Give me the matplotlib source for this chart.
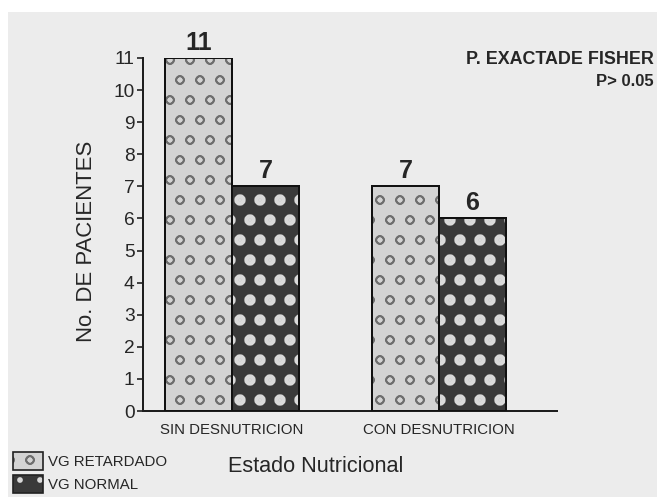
import matplotlib
matplotlib.use("Agg")
import matplotlib.pyplot as plt
from matplotlib.patches import Patch, Rectangle
import numpy as np

# ---- data ----
categories = ["SIN DESNUTRICION", "CON DESNUTRICION"]
series_names = ["VG RETARDADO", "VG NORMAL"]
vg_retardado = [11, 7]
vg_normal = [7, 6]
y_ticks = list(range(0, 12))
xlabel = "Estado Nutricional"
ylabel = "No. DE PACIENTES"
note_lines = ["P. EXACTADE FISHER", "P> 0.05"]

# ---- style ----
plt.rcParams["font.family"] = ["Liberation Sans", "DejaVu Sans"]
TXT = "#262626"
BG = "#ececec"
DPI = 120
W, H = 657, 497

fig = plt.figure(figsize=(W / DPI, H / DPI), dpi=DPI, facecolor="white")
fig.add_artist(Rectangle((8 / W, 0), 1, 1 - 12 / H, transform=fig.transFigure,
                         facecolor=BG, edgecolor="none", zorder=-5))

ax = fig.add_axes([143 / W, 1 - 411 / H, (557 - 143) / W, (411 - 58) / H])
ax.set_facecolor("none")

x = np.arange(len(categories))
w = 0.324

styles = [
    dict(face="#d3d3d3", hatchcol="#6e6e6e", hatch="o", hlw=1.0),
    dict(face="#3a3a3a", hatchcol="#dadada", hatch=".", hlw=4.4),
]
values = [vg_retardado, vg_normal]
offsets = [-w / 2, w / 2]


def set_hlw(p, lw):
    if hasattr(p, "set_hatch_linewidth"):
        p.set_hatch_linewidth(lw)


handles = []
for vals, off, st in zip(values, offsets, styles):
    bars = ax.bar(x + off, vals, width=w, color=st["face"], edgecolor=st["hatchcol"],
                  hatch=st["hatch"], linewidth=0, zorder=2)
    for b in bars:
        set_hlw(b, st["hlw"])
    ax.bar(x + off, vals, width=w, fill=False, edgecolor="#111111", linewidth=1.2, zorder=3)
    for xi, v in zip(x + off, vals):
        ax.annotate(str(v), (xi, v), xytext=(0, 5), textcoords="offset points",
                    ha="center", va="baseline", fontsize=15, fontweight="bold", color=TXT)
    hp = Patch(facecolor=st["face"], edgecolor=st["hatchcol"], hatch=st["hatch"], linewidth=0)
    set_hlw(hp, st["hlw"])
    op = Patch(fill=False, edgecolor="#222222", linewidth=1.0)
    handles.append((hp, op))

ax.set_xlim(-0.430, 1.570)
ax.set_ylim(0, 11)
ax.set_yticks(y_ticks)
ax.set_yticklabels([str(t) for t in y_ticks], fontsize=11.5, color=TXT)
ax.set_xticks(x)
ax.set_xticklabels(categories, fontsize=9, color=TXT)
ax.tick_params(axis="x", length=0, pad=7)
ax.tick_params(axis="y", length=3.6, width=1.0, pad=1.5, color="#222222", direction="out")

for s in ["top", "right"]:
    ax.spines[s].set_visible(False)
for s in ["left", "bottom"]:
    ax.spines[s].set_linewidth(1.2)
    ax.spines[s].set_color("#1e1e1e")

ax.set_ylabel(ylabel, fontsize=13.3, color=TXT, va="center")
ax.yaxis.set_label_coords((86 - 143) / 414, (411 - 241) / 353)
ax.set_xlabel(xlabel, fontsize=13, color=TXT, va="center")
ax.xaxis.set_label_coords((316 - 143) / 414, (411 - 466) / 353)

fig.text(654 / W, 1 - 60 / H, note_lines[0], ha="right", va="center",
         fontsize=10.7, fontweight="bold", color=TXT)
fig.text(654 / W, 1 - 81 / H, note_lines[1], ha="right", va="center",
         fontsize=10, fontweight="bold", color=TXT)

fig.legend(handles, series_names, loc="upper left", bbox_to_anchor=(13 / W, 1 - 452 / H),
           frameon=False, borderpad=0, borderaxespad=0, fontsize=9.0,
           handlelength=2.0, handleheight=1.5, handletextpad=0.33, labelspacing=0.3,
           labelcolor=TXT)

fig.savefig("out.png", dpi=DPI, facecolor=fig.get_facecolor())
